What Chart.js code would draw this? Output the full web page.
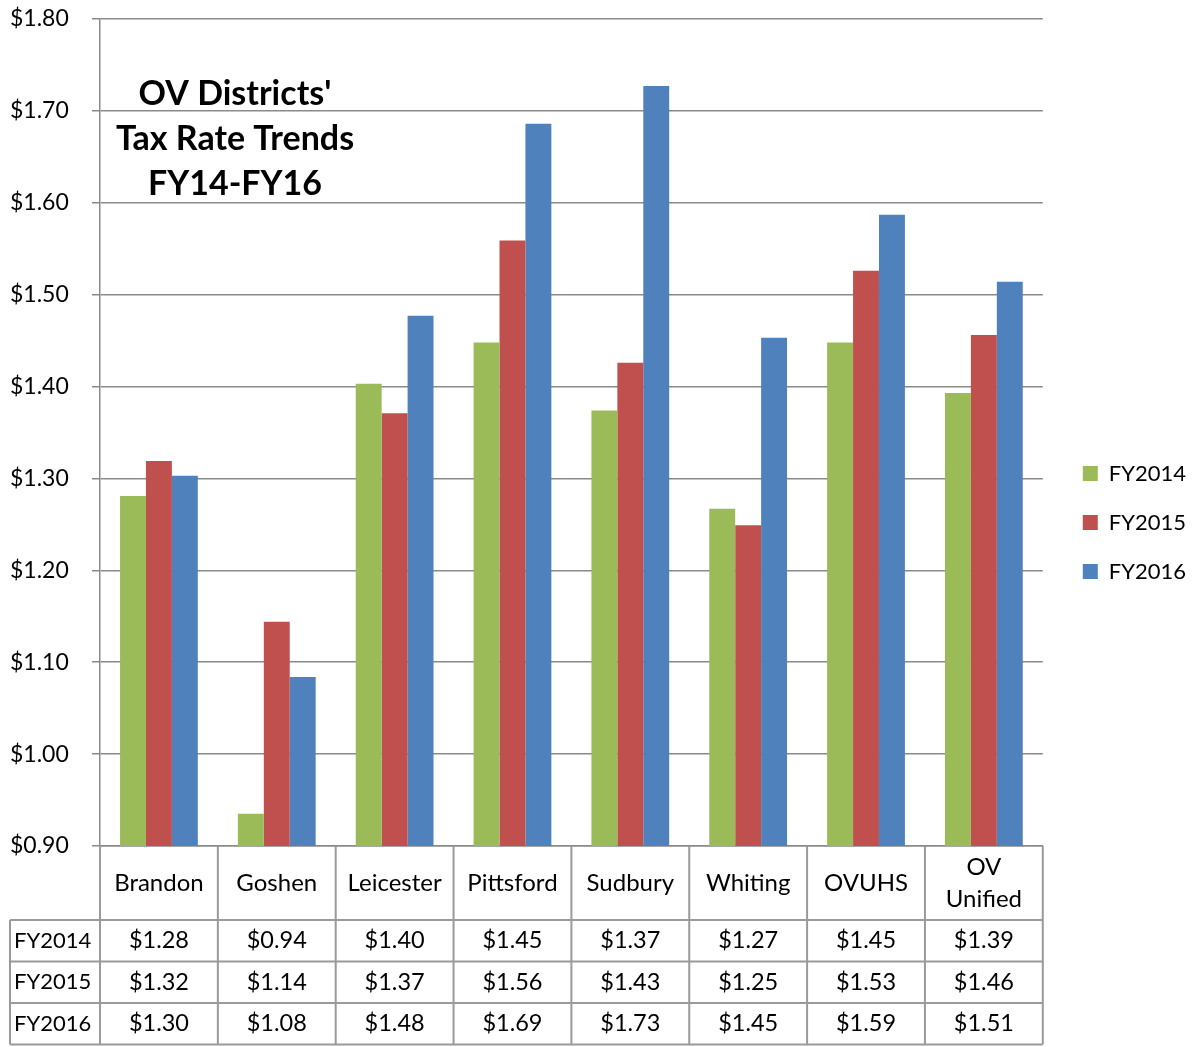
<!DOCTYPE html>
<html><head><meta charset="utf-8">
<style>html,body{margin:0;padding:0;background:#fff;} #wrap{width:1201px;height:1047px;position:relative;}</style>
<script src="https://cdn.jsdelivr.net/npm/chart.js@4"></script>
</head><body><div id="wrap"><canvas id="c" width="1201" height="1047"></canvas></div>
<script>
const categories = ['Brandon','Goshen','Leicester','Pittsford','Sudbury','Whiting','OVUHS',['OV','Unified']];
const seriesNames = ['FY2014','FY2015','FY2016'];
const fy2014 = [1.281,0.935,1.403,1.448,1.374,1.267,1.448,1.393];
const fy2015 = [1.319,1.144,1.371,1.559,1.426,1.249,1.526,1.456];
const fy2016 = [1.303,1.084,1.477,1.686,1.727,1.453,1.587,1.514];
const tableFY2014 = ['$1.28','$0.94','$1.40','$1.45','$1.37','$1.27','$1.45','$1.39'];
const tableFY2015 = ['$1.32','$1.14','$1.37','$1.56','$1.43','$1.25','$1.53','$1.46'];
const tableFY2016 = ['$1.30','$1.08','$1.48','$1.69','$1.73','$1.45','$1.59','$1.51'];
const titleLines = ["OV Districts'", 'Tax Rate Trends', 'FY14-FY16'];
const colors = ['#9BBB59','#C0504D','#4F81BD'];
const FONT = 'Lato, "Open Sans", sans-serif';

const tablePlugin = {
  id: 'dataTable',
  afterLayout(chart) {
    const lg = chart.legend;
    if (lg) { lg.left += 13; lg.right += 13; lg.top -= 10; lg.bottom -= 10; }
  },
  afterDraw(chart) {
    const ctx = chart.ctx, ca = chart.chartArea, x = chart.scales.x;
    const n = categories.length;
    const catW = (ca.right - ca.left) / n;
    const top = ca.bottom, hdrBottom = top + 74;
    const rowH = 41.5;
    const rows = [tableFY2014, tableFY2015, tableFY2016];
    const bottom = hdrBottom + rowH * rows.length;
    const labelLeft = 10;
    ctx.save();
    ctx.strokeStyle = '#9a9a9a';
    ctx.lineWidth = 2;
    ctx.beginPath();
    for (let i = 0; i <= n; i++) {
      const xx = ca.left + i * catW;
      ctx.moveTo(xx, top); ctx.lineTo(xx, bottom);
    }
    ctx.moveTo(labelLeft, hdrBottom); ctx.lineTo(labelLeft, bottom);
    for (let r = 0; r <= rows.length; r++) {
      const yy = hdrBottom + r * rowH;
      ctx.moveTo(labelLeft, yy); ctx.lineTo(ca.right, yy);
    }
    ctx.stroke();
    ctx.fillStyle = '#000';
    ctx.font = '24px ' + FONT;
    ctx.textBaseline = 'middle';
    ctx.textAlign = 'center';
    categories.forEach((c, i) => {
      const cx = x.getPixelForValue(i);
      const cy = (top + hdrBottom) / 2;
      if (Array.isArray(c)) {
        ctx.fillText(c[0], cx, cy - 16);
        ctx.fillText(c[1], cx, cy + 16);
      } else ctx.fillText(c, cx, cy);
    });
    rows.forEach((row, r) => {
      const cy = hdrBottom + r * rowH + rowH / 2;
      ctx.font = '22px ' + FONT;
      ctx.textAlign = 'left';
      ctx.fillText(seriesNames[r], labelLeft + 4, cy);
      ctx.font = '23.5px ' + FONT;
      ctx.textAlign = 'center';
      row.forEach((v, i) => ctx.fillText(v, x.getPixelForValue(i), cy));
    });
    ctx.font = 'bold 34px ' + FONT;
    ctx.textAlign = 'center';
    const tx = ca.left + 135;
    titleLines.forEach((t, i) => ctx.fillText(t, tx, 94 + i * 45));
    ctx.restore();
  }
};

new Chart(document.getElementById('c'), {
  type: 'bar',
  data: {
    labels: categories,
    datasets: [
      { label: seriesNames[0], data: fy2014, backgroundColor: colors[0] },
      { label: seriesNames[1], data: fy2015, backgroundColor: colors[1] },
      { label: seriesNames[2], data: fy2016, backgroundColor: colors[2] }
    ]
  },
  options: {
    responsive: false,
    animation: false,
    devicePixelRatio: 1,
    layout: { padding: { left: 10, top: 19, bottom: 1, right: 18 } },
    datasets: { bar: { barPercentage: 1.0, categoryPercentage: 0.66, borderWidth: 0 } },
    plugins: {
      legend: {
        position: 'right',
        labels: { boxWidth: 15, boxHeight: 15, padding: 27, color: '#000', font: { family: FONT, size: 22 } }
      },
      tooltip: { enabled: false },
      title: { display: false }
    },
    scales: {
      x: {
        grid: { display: false },
        border: { display: true, color: '#8a8a8a', width: 1.5 },
        ticks: { display: false },
        afterFit(s) { s.height = 200; }
      },
      y: {
        min: 0.9, max: 1.8,
        grid: { color: '#8a8a8a', lineWidth: 1.5, tickLength: 8 },
        border: { display: true, color: '#8a8a8a', width: 1.5 },
        ticks: {
          stepSize: 0.1, padding: 3, crossAlign: 'far', color: '#000',
          font: { family: FONT, size: 23 },
          callback: v => '$' + (Math.round(v * 100) / 100).toFixed(2)
        },
        afterFit(s) { s.width = 90; }
      }
    }
  },
  plugins: [tablePlugin]
});
</script>
</body></html>
